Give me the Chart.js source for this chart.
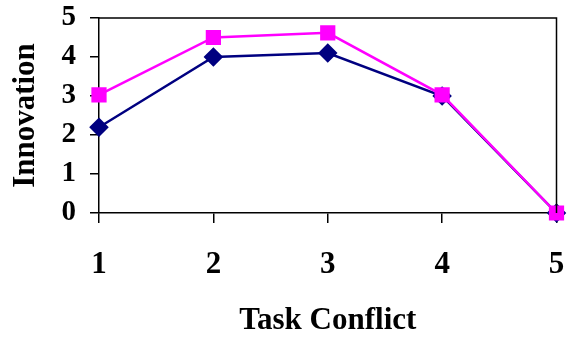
<!DOCTYPE html>
<html>
<head>
<meta charset="utf-8">
<script src="https://cdn.jsdelivr.net/npm/chart.js@4/dist/chart.umd.min.js"></script>
<style>
html,body{margin:0;padding:0;background:#fff;}
#wrap{width:568px;height:337px;position:relative;}
</style>
</head>
<body>
<div id="wrap"><canvas id="c" width="568" height="337"></canvas></div>
<script>
const taskConflict = [1, 2, 3, 4, 5];
const seriesNavy = [2.2, 4.0, 4.1, 3.0, 0];
const seriesPink = [3.03, 4.5, 4.62, 3.03, 0];
const yTicks = [0, 1, 2, 3, 4, 5];
const xTitle = 'Task Conflict';
const yTitle = 'Innovation';

const toPts = (arr) => arr.map((v, i) => ({x: taskConflict[i], y: v}));

const frame = {
  id: 'frame',
  afterDatasetsDraw(chart) {
    const {ctx, chartArea: a} = chart;
    ctx.save();
    ctx.strokeStyle = '#000';
    ctx.lineWidth = 1.5;
    ctx.beginPath();
    ctx.moveTo(a.left, a.top);
    ctx.lineTo(a.right, a.top);
    ctx.lineTo(a.right, a.bottom);
    ctx.stroke();
    ctx.restore();
  }
};

const fam = '"Liberation Serif", "Times New Roman", serif';
const xTickFont = {family: fam, weight: 'bold', size: 31};
const yTickFont = {family: fam, weight: 'bold', size: 29};
const titleFont = {family: fam, weight: 'bold', size: 31, lineHeight: 1};

new Chart(document.getElementById('c'), {
  type: 'line',
  data: {
    datasets: [
      {data: toPts(seriesNavy), order: 1, borderColor: '#000080', backgroundColor: '#000080', borderWidth: 2.5,
       pointStyle: 'rectRot', pointRadius: 8, pointHoverRadius: 8, tension: 0, clip: false},
      {data: toPts(seriesPink), order: 0, borderColor: '#ff00ff', backgroundColor: '#ff00ff', borderWidth: 2.5,
       pointStyle: 'rect', pointRadius: 9, pointHoverRadius: 9, tension: 0, clip: false}
    ]
  },
  options: {
    responsive: false,
    animation: false,
    devicePixelRatio: 1,
    layout: {padding: {top: 18, right: 11, left: 0, bottom: 0}},
    plugins: {legend: {display: false}, tooltip: {enabled: false}},
    scales: {
      x: {
        type: 'linear', min: 1, max: 5,
        afterBuildTicks: (s) => { s.ticks = taskConflict.map(v => ({value: v})); },
        afterFit: (s) => { s.height = 124; s.paddingLeft = 0; s.paddingRight = 0; },
        ticks: {font: xTickFont, color: '#000', padding: 23, autoSkip: false, maxRotation: 0},
        grid: {drawOnChartArea: false, tickLength: 10, color: '#000', lineWidth: 1.5},
        border: {color: '#000', width: 1.5},
        title: {display: true, text: xTitle, font: titleFont, color: '#000', padding: {top: 0, bottom: 1}}
      },
      y: {
        min: 0, max: 5,
        afterBuildTicks: (s) => { s.ticks = yTicks.map(v => ({value: v})); },
        afterFit: (s) => { s.width = 99; s.paddingTop = 0; s.paddingBottom = 0; },
        ticks: {font: yTickFont, color: '#000', padding: 14, autoSkip: false},
        grid: {drawOnChartArea: false, tickLength: 9, color: '#000', lineWidth: 1.5},
        border: {color: '#000', width: 1.5},
        title: {display: true, text: yTitle, font: titleFont, color: '#000', padding: {top: 10, bottom: 0}}
      }
    }
  },
  plugins: [frame]
});
</script>
</body>
</html>
